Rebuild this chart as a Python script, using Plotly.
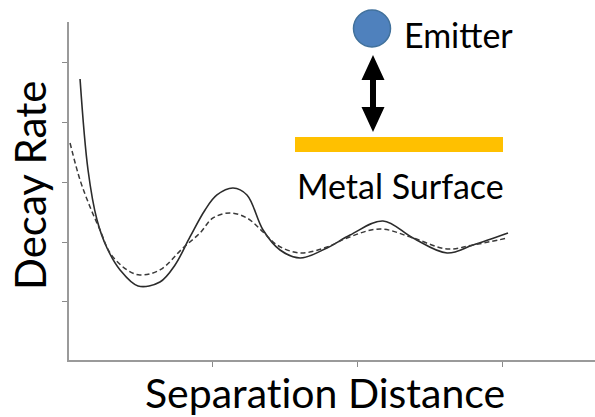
import plotly.graph_objects as go

# Separation distance (arbitrary units) and decay rate (arbitrary units)
solid_x = [0.090, 0.145, 0.207, 0.276, 0.366, 0.490, 0.641, 0.745, 0.848, 0.952,
           1.034, 1.145, 1.241, 1.352, 1.469, 1.607, 1.793, 1.952, 2.179, 2.386,
           2.621, 2.800, 3.041]
solid_y = [4.732, 3.209, 2.372, 1.904, 1.536, 1.268, 1.335, 1.620, 2.088, 2.540,
           2.791, 2.908, 2.791, 2.205, 1.870, 1.736, 1.904, 2.121, 2.356, 2.071,
           1.820, 1.954, 2.155]

dashed_x = [0.021, 0.090, 0.159, 0.228, 0.297, 0.414, 0.503, 0.641, 0.800, 0.917,
            1.007, 1.124, 1.241, 1.352, 1.448, 1.607, 1.793, 1.931, 2.159, 2.386,
            2.621, 2.800, 3.041]
dashed_y = [3.661, 3.042, 2.590, 2.205, 1.820, 1.536, 1.452, 1.536, 1.904, 2.155,
            2.406, 2.490, 2.406, 2.172, 1.954, 1.820, 1.920, 2.071, 2.222, 2.071,
            1.887, 1.954, 2.071]

x_ticks = [1, 2, 3]
y_ticks = [1, 2, 3, 4, 5]

W, H = 595, 417
ML, MR, MT, MB = 69, 0, 22, 57
PW, PH = W - ML - MR, H - MT - MB


def px(x):
    return (x - ML) / PW


def py(y):
    return (H - MB - y) / PH


FONT = "Lato"
ZWNJ = "\u200c"  # keeps "t" and "i" as separate glyphs

fig = go.Figure()
fig.add_trace(go.Scatter(x=solid_x, y=solid_y, mode="lines",
                         line=dict(color="#2b2b2b", width=1.6, shape="spline", smoothing=1.0),
                         hoverinfo="skip"))
fig.add_trace(go.Scatter(x=dashed_x, y=dashed_y, mode="lines",
                         line=dict(color="#3a3a3a", width=1.5, dash="5px,3px",
                                   shape="spline", smoothing=1.0),
                         hoverinfo="skip"))

shapes = []
# Metal surface bar
shapes.append(dict(type="rect", xref="paper", yref="paper",
                   x0=px(295), x1=px(503), y0=py(152), y1=py(137),
                   fillcolor="#FFC000", line=dict(width=0)))
# Emitter
shapes.append(dict(type="circle", xref="paper", yref="paper",
                   x0=px(372 - 18.5), x1=px(372 + 18.5), y0=py(28.5 + 18.5), y1=py(28.5 - 18.5),
                   fillcolor="#4F81BD", line=dict(color="#41719C", width=1.5)))
# Double-headed arrow
ax, top, bot = 373, 55, 132
hw, hl, sw = 11.5, 25, 3
pts = [(ax, top), (ax + hw, top + hl), (ax + sw, top + hl), (ax + sw, bot - hl),
       (ax + hw, bot - hl), (ax, bot), (ax - hw, bot - hl), (ax - sw, bot - hl),
       (ax - sw, top + hl), (ax - hw, top + hl)]
path = "M " + " L ".join(f"{px(a):.5f},{py(b):.5f}" for a, b in pts) + " Z"
shapes.append(dict(type="path", xref="paper", yref="paper", path=path,
                   fillcolor="black", line=dict(width=0)))

annotations = [
    dict(text="Emitter", xref="paper", yref="paper", x=px(402), y=py(35),
         xanchor="left", yanchor="middle", showarrow=False,
         font=dict(family=FONT, size=34, color="black")),
    dict(text="Metal Surface", xref="paper", yref="paper", x=px(400), y=py(185),
         xanchor="center", yanchor="middle", showarrow=False,
         font=dict(family=FONT, size=34, color="black")),
    dict(text=f"Separat{ZWNJ}ion Distance", xref="paper", yref="paper", x=px(325), y=py(392),
         xanchor="center", yanchor="middle", showarrow=False,
         font=dict(family=FONT, size=41, color="black")),
    dict(text="Decay Rate", xref="paper", yref="paper", x=px(30), y=py(186),
         xanchor="center", yanchor="middle", showarrow=False, textangle=-90,
         font=dict(family=FONT, size=42, color="black")),
]

axis_common = dict(showline=True, linecolor="#9a9a9a", linewidth=1.5,
                   ticks="outside", ticklen=5, tickcolor="#8a8a8a", tickwidth=1,
                   showticklabels=False, showgrid=False, zeroline=False,
                   tickmode="array", fixedrange=True)

fig.update_layout(
    width=W, height=H,
    margin=dict(l=ML, r=MR, t=MT, b=MB, pad=0),
    paper_bgcolor="white", plot_bgcolor="white",
    showlegend=False,
    xaxis=dict(range=[0.0138, 3.641], tickvals=x_ticks, **axis_common),
    yaxis=dict(range=[0.029, 5.686], tickvals=y_ticks, **axis_common),
    shapes=shapes, annotations=annotations,
)

fig.write_html("out.html", config=dict(displayModeBar=False))
